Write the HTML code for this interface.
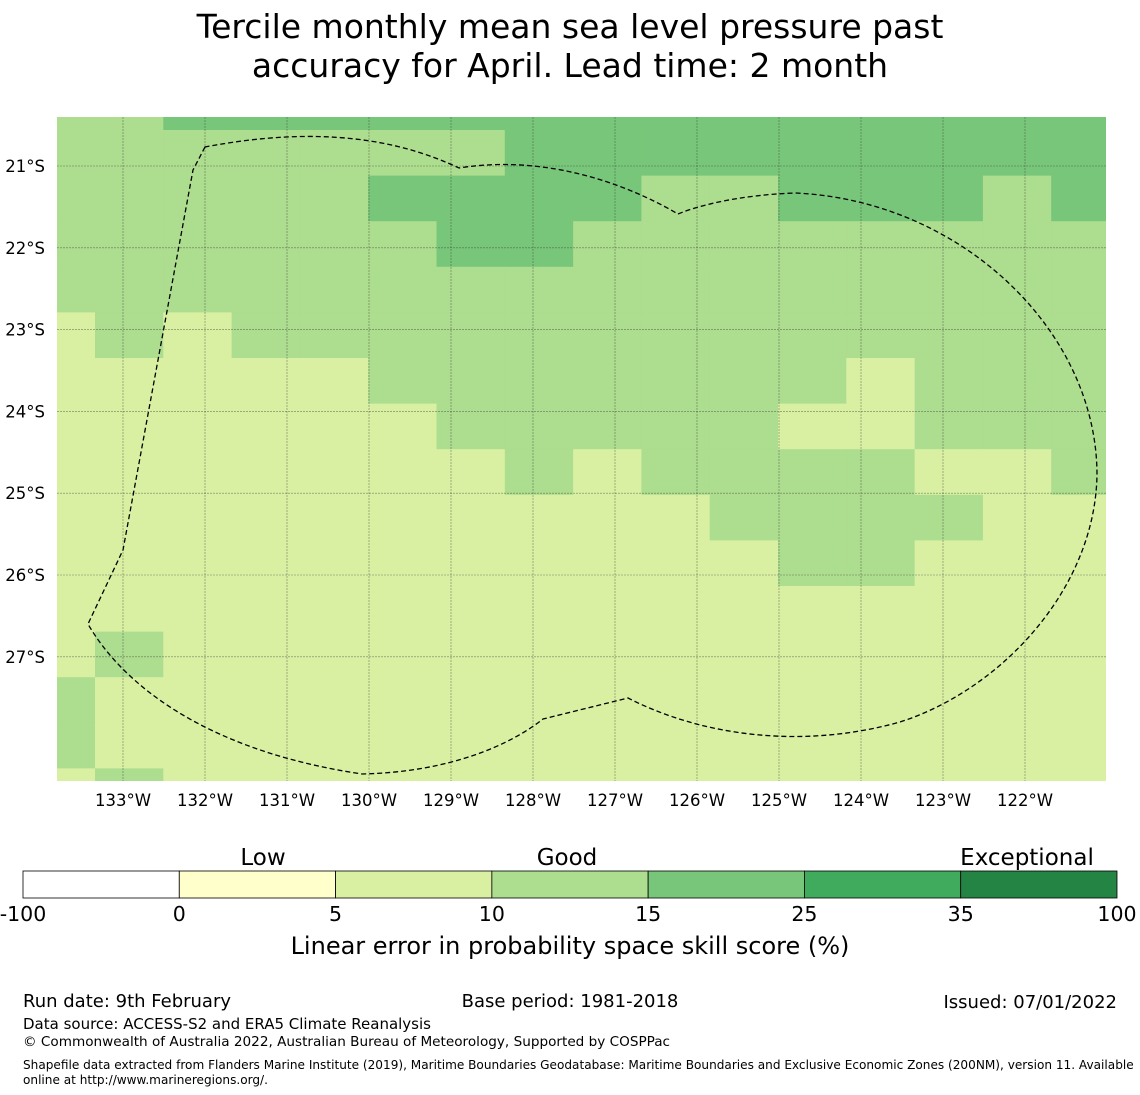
<!DOCTYPE html>
<html><head><meta charset="utf-8"><style>
body{margin:0;background:#fff;font-family:"DejaVu Sans","Liberation Sans",sans-serif}
svg{display:block}
</style></head><body>
<svg id="s" width="1140" height="1095" xmlns="http://www.w3.org/2000/svg" font-family="DejaVu Sans, Liberation Sans, sans-serif">
<text x="570" y="38" font-size="33" text-anchor="middle">Tercile monthly mean sea level pressure past</text>
<text x="570" y="77" font-size="33" text-anchor="middle">accuracy for April. Lead time: 2 month</text>
<defs><clipPath id="mc"><rect x="57" y="117" width="1049" height="664"/></clipPath></defs>
<g id="cells" clip-path="url(#mc)"></g>
<g id="grid"></g>
<path d="M205,147 L193,170 L123,550 L88,624 C120,680 200,750 362,774 C450,772 510,745 543,719 L628,698 C700,735 800,750 900,722 C1000,690 1095,590 1097,475 C1097,330 960,200 795,193 C740,195 700,205 678,214 C620,180 540,155 459,168 C400,140 320,125 205,147 Z" fill="none" stroke="#000" stroke-width="1.3" stroke-dasharray="5,3"/>
<g id="axes" font-size="16.5"></g>
<g id="cbar"></g>
<text x="263" y="865" font-size="23" text-anchor="middle">Low</text>
<text x="567" y="865" font-size="23" text-anchor="middle">Good</text>
<text x="1027" y="865" font-size="23" text-anchor="middle">Exceptional</text>
<text x="570" y="954" font-size="24" text-anchor="middle">Linear error in probability space skill score (%)</text>
<text x="23" y="1007" font-size="18">Run date: 9th February</text>
<text x="570" y="1007" font-size="18" text-anchor="middle">Base period: 1981-2018</text>
<text x="1117" y="1008" font-size="18" text-anchor="end">Issued: 07/01/2022</text>
<text x="23" y="1029" font-size="15">Data source: ACCESS-S2 and ERA5 Climate Reanalysis</text>
<text x="23" y="1046" font-size="13.6">© Commonwealth of Australia 2022, Australian Bureau of Meteorology, Supported by COSPPac</text>
<text x="23" y="1069" font-size="12.1">Shapefile data extracted from Flanders Marine Institute (2019), Maritime Boundaries Geodatabase: Maritime Boundaries and Exclusive Economic Zones (200NM), version 11. Available</text>
<text x="23" y="1084" font-size="12.1">online at http://www.marineregions.org/.</text>
</svg>
<script>
const gridRows = [
"BBAAAAAAAAAAAAAA",
"BBBBBBBAAAAAAAAA",
"BBBBBAAAABBAAABA",
"BBBBBBAABBBBBBBB",
"BBBBBBBBBBBBBBBB",
"CBCBBBBBBBBBBBBB",
"CCCCCBBBBBBBCBBB",
"CCCCCCBBBBBCCBBB",
"CCCCCCCBCBBBBCCB",
"CCCCCCCCCCBBBBCC",
"CCCCCCCCCCCBBCCC",
"CCCCCCCCCCCCCCCC",
"CBCCCCCCCCCCCCCC",
"BCCCCCCCCCCCCCCC",
"BCCCCCCCCCCCCCCC",
"CBCCCCCCCCCCCCCC"];
const lonTicks = [133,132,131,130,129,128,127,126,125,124,123,122];
const latTicks = [21,22,23,24,25,26,27];
const cbBounds = ["-100","0","5","10","15","25","35","100"];
const cbColors = ["#ffffff","#ffffcc","#d9f0a3","#addd8e","#78c679","#41ab5d","#238443"];
const catColor = {A:"#78c679",B:"#addd8e",C:"#d9f0a3"};
const NS="http://www.w3.org/2000/svg";
function mk(t,a,p){const e=document.createElementNS(NS,t);for(const k in a)e.setAttribute(k,a[k]);p.appendChild(e);return e;}
const xLon = lon => 123 + (133-lon)*82;
const yLat = lat => 166 + (lat-21)*81.8;
const cw=68.3, ch=45.6, x0=95-cw, y0=130-ch;
const cells=document.getElementById('cells');
gridRows.forEach((row,r)=>{[...row].forEach((c,i)=>{
 const e=mk('rect',{x:x0+i*cw,y:y0+r*ch,width:cw+0.6,height:ch+0.6,fill:catColor[c]},cells);
 
 
});});
const g=document.getElementById('grid'), ax=document.getElementById('axes');
lonTicks.forEach(l=>{const x=xLon(l);
 const ln=mk('line',{x1:x,x2:x,y1:117,y2:781,stroke:'#333','stroke-width':0.6,'stroke-dasharray':'2,1','stroke-opacity':0.6},g);
 
 
 const t=mk('text',{x:x,y:806,'text-anchor':'middle'},ax);t.textContent=l+'°W';
 
 
});
latTicks.forEach(l=>{const y=yLat(l);
 const ln=mk('line',{x1:57,x2:1106,y1:y,y2:y,stroke:'#333','stroke-width':0.6,'stroke-dasharray':'2,1','stroke-opacity':0.6},g);
 
 
 const t=mk('text',{x:45,y:y+6,'text-anchor':'end'},ax);t.textContent=l+'°S';
 
 
});
const cb=document.getElementById('cbar');
const cbx=23,cbw=1094/cbColors.length;
cbColors.forEach((c,i)=>{const e=mk('rect',{x:cbx+i*cbw,y:871,width:cbw,height:27,fill:c,stroke:'#000','stroke-width':0.8},cb);
 
 });
cbBounds.forEach((b,i)=>{const t=mk('text',{x:cbx+i*cbw,y:921,'font-size':20.5,'text-anchor':'middle'},cb);t.textContent=b;
 
 });
</script>
</body></html>
